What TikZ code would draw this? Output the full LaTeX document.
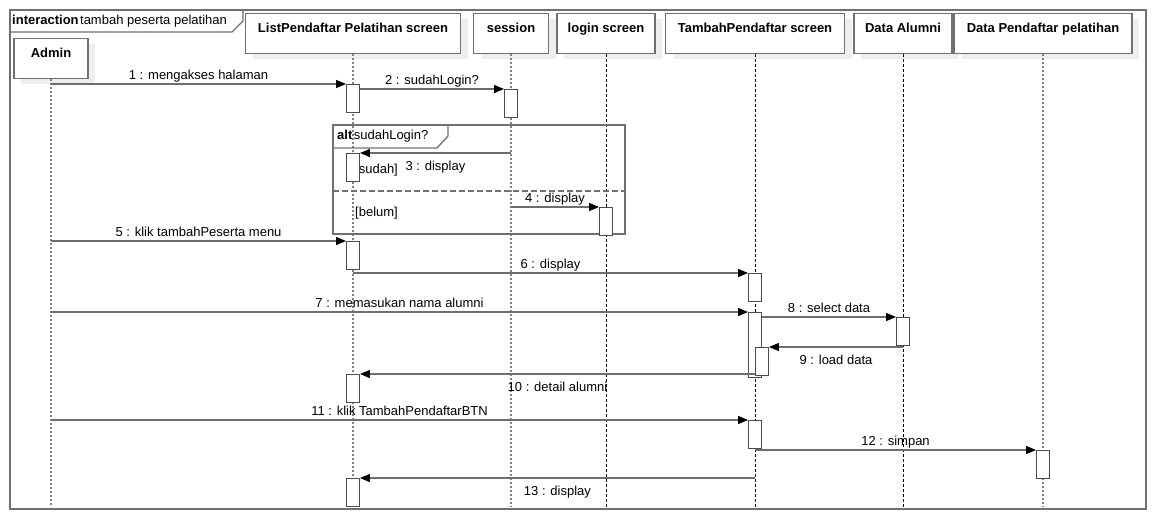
\documentclass[tikz,border=0pt]{standalone}
\usepackage{fontspec}
\setmainfont{Liberation Sans}
\usetikzlibrary{arrows.meta,shadows}
\definecolor{framegray}{HTML}{707070}
\definecolor{linegray}{HTML}{6E6E6E}
\definecolor{shadowgray}{HTML}{EEEEEE}
\begin{document}
\begin{tikzpicture}[x=1pt, y=-1pt, font=\fontsize{13}{15}\selectfont,
 head/.style={draw=framegray, line width=1.3pt, fill=white, anchor=north, font=\fontsize{13}{15}\selectfont\bfseries, inner xsep=3pt, inner ysep=10pt, text height=9pt, text depth=11pt, drop shadow={shadow xshift=7pt, shadow yshift=-5pt, fill=shadowgray, opacity=1}},
 act/.style={draw=black!70, line width=0.9pt, fill=white, anchor=north, minimum width=13pt, minimum height=28pt, inner sep=0pt},
 life/.style={draw=gray, line width=1.3pt, dash pattern=on 2pt off 2pt},
 lifeb/.style={draw=black, line width=0.7pt, dash pattern=on 3pt off 2pt},
 msg/.style={draw=linegray, line width=1.2pt, -{Triangle[length=10pt, width=8pt, color=black]}},
 lbl/.style={text height=9.5pt, text depth=2.8pt, inner sep=1pt},
 frm/.style={draw=framegray, line width=1.3pt}]

 \useasboundingbox (0,0) rectangle (1156,520);

 % --- frame interaction ---
 \draw[frm] (10,10) rectangle (1146,509);
 \draw[frm] (10,32) -- (232,32) -- (243,21) -- (243,10);
 \node[anchor=west, inner sep=0pt] (title) at (12,21) {\textbf{interaction}\hspace{1.5pt}tambah peserta pelatihan};

 % --- lifeline ---
 \node[head, minimum width=74pt] (admin) at (51,38) {Admin};
 \node[head, minimum width=215pt] (listp) at (353,13) {ListPendaftar Pelatihan screen};
 \node[head, minimum width=75pt] (sess) at (511,13) {session};
 \node[head, minimum width=98pt] (login) at (606,13) {login screen};
 \node[head, minimum width=179pt] (tambah) at (755,13) {TambahPendaftar screen};
 \node[head, minimum width=98pt] (alumni) at (903,13) {Data Alumni};
 \node[head, minimum width=178pt] (datap) at (1043,13) {Data Pendaftar pelatihan};

 \coordinate (bot) at (0,507);
 \draw[life] (admin.south) -- (admin.south |- bot);
 \draw[life] (listp.south) -- (listp.south |- bot);
 \draw[life] (sess.south) -- (sess.south |- bot);
 \draw[lifeb] (login.south) -- (login.south |- bot);
 \draw[lifeb] (tambah.south) -- (tambah.south |- bot);
 \draw[lifeb] (alumni.south) -- (alumni.south |- bot);
 \draw[life] (datap.south) -- (datap.south |- bot);

 % --- fragment alt ---
 \draw[frm] (333,125) rectangle (625,234);
 \draw[frm] (333,148) -- (437,148) -- (448,136) -- (448,125);
 \node[anchor=west, inner sep=0pt] (altlbl) at (337,136) {\textbf{alt}\hspace{1.5pt}sudahLogin?};
 \draw[frm, dash pattern=on 6pt off 3pt] (333,191) -- (625,191);
 \node[anchor=west, inner sep=0pt] (gsudah) at (355,170) {[sudah]};
 \node[anchor=west, inner sep=0pt] (gbelum) at (355,213) {[belum]};

 % --- aktivasi ---
 \node[act] (a1) at (listp.south |- 0,84) {};
 \node[act] (a2) at (sess.south |- 0,89) {};
 \node[act] (a3) at (listp.south |- 0,153) {};
 \node[act] (a4) at (login.south |- 0,207) {};
 \node[act] (a5) at (listp.south |- 0,241) {};
 \node[act] (a6) at (tambah.south |- 0,273) {};
 \node[act, minimum height=65pt] (a7) at (tambah.south |- 0,312) {};
 \node[act] (a8) at (alumni.south |- 0,317) {};
 \node[act] (a9) at ([xshift=7pt]tambah.south |- 0,347) {};
 \node[act] (a10) at (listp.south |- 0,374) {};
 \node[act] (a11) at (tambah.south |- 0,420) {};
 \node[act] (a12) at (datap.south |- 0,450) {};
 \node[act] (a13) at (listp.south |- 0,478) {};

 % --- pesan ---
 \draw[msg] (admin.south |- a1.north) -- node[midway, above, lbl]{1 : mengakses halaman} (a1.north west);
 \draw[msg] (a1.east |- a2.north) -- node[midway, above, lbl]{2 : sudahLogin?} (a2.north west);
 \draw[msg] (sess.south |- a3.north) -- node[midway, below, lbl, yshift=-6pt]{3 : display} (a3.north east);
 \draw[msg] (sess.south |- a4.north) -- node[midway, above, lbl]{4 : display} (a4.north west);
 \draw[msg] (admin.south |- a5.north) -- node[midway, above, lbl]{5 : klik tambahPeserta menu} (a5.north west);
 \draw[msg] (listp.south |- a6.north) -- node[midway, above, lbl]{6 : display} (a6.north west);
 \draw[msg] (admin.south |- a7.north) -- node[midway, above, lbl]{7 : memasukan nama alumni} (a7.north west);
 \draw[msg] (a7.east |- a8.north) -- node[midway, above, lbl]{8 : select data} (a8.north west);
 \draw[msg] (alumni.south |- a9.north) -- node[midway, below, lbl, yshift=-6pt]{9 : load data} (a9.north east);
 \draw[msg] (tambah.south |- a10.north) -- node[midway, below, lbl, yshift=-6pt]{10 : detail alumni} (a10.north east);
 \draw[msg] (admin.south |- a11.north) -- node[midway, above, lbl]{11 : klik TambahPendaftarBTN} (a11.north west);
 \draw[msg] (tambah.south |- a12.north) -- node[midway, above, lbl]{12 : simpan} (a12.north west);
 \draw[msg] (tambah.south |- a13.north) -- node[midway, below, lbl, yshift=-6pt]{13 : display} (a13.north east);
\end{tikzpicture}
\end{document}
